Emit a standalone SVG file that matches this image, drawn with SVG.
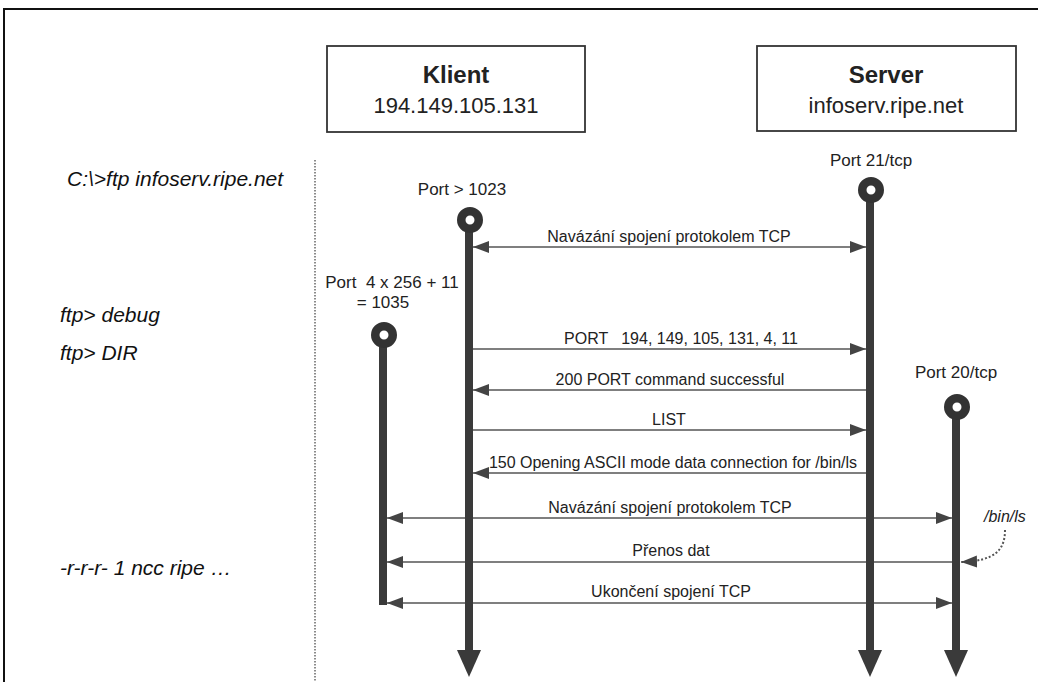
<svg xmlns="http://www.w3.org/2000/svg" width="1038" height="682" viewBox="0 0 1038 682">
<style>
.hdrb{font-family:"Liberation Sans",Arial,sans-serif;font-weight:bold;font-size:24px;fill:#222;text-anchor:middle}
.hdr{font-family:"Liberation Sans",Arial,sans-serif;font-size:22px;fill:#222;text-anchor:middle}
.port{font-family:"Liberation Sans",Arial,sans-serif;font-size:17px;fill:#222;text-anchor:middle;white-space:pre}
.msg{font-family:"Liberation Sans",Arial,sans-serif;font-size:16px;fill:#222;text-anchor:middle;white-space:pre}
.cmd{font-family:"Liberation Sans",Arial,sans-serif;font-style:italic;font-size:21px;fill:#111}
.note{font-family:"Liberation Sans",Arial,sans-serif;font-style:italic;font-size:16px;fill:#222}
.box{fill:#fff;stroke:#333;stroke-width:1.8}
.life{stroke:#3a3a3a;stroke-width:8;fill:none}
.port-c{fill:#fff;stroke:#333;stroke-width:8.5}
.head{fill:#3a3a3a}
.m{stroke:#555;stroke-width:1.6;fill:none}
</style>
<defs>
<marker id="ah" markerUnits="userSpaceOnUse" markerWidth="17" markerHeight="13" refX="16" refY="6" orient="auto-start-reverse">
<path d="M0,0 L16,6 L0,12 z" fill="#444"/>
</marker>
</defs>
<rect x="0" y="0" width="1038" height="682" fill="#fff"/>
<rect x="4" y="9" width="1040" height="680" fill="none" stroke="#111" stroke-width="2"/>
<line x1="315" y1="160" x2="315" y2="682" stroke="#666" stroke-width="1.5" stroke-dasharray="1.5 1.5"/>

<g id="commands">
<text class="cmd" x="67" y="186">C:\&gt;ftp infoserv.ripe.net</text>
<text class="cmd" x="60" y="322">ftp&gt; debug</text>
<text class="cmd" x="60" y="360">ftp&gt; DIR</text>
<text class="cmd" x="60" y="575">-r-r-r- 1 ncc ripe …</text>
</g>

<g id="klient">
<rect class="box" x="327" y="46" width="258" height="86"/>
<text class="hdrb" x="456" y="83">Klient</text>
<text class="hdr" x="456" y="113">194.149.105.131</text>
</g>
<g id="server">
<rect class="box" x="757" y="46" width="259" height="85"/>
<text class="hdrb" x="886" y="83">Server</text>
<text class="hdr" x="886" y="113">infoserv.ripe.net</text>
</g>

<g id="connectors">
<line class="m" x1="473" y1="247" x2="866" y2="247" marker-start="url(#ah)" marker-end="url(#ah)"/>
<text class="msg" x="669" y="242">Navázání spojení protokolem TCP</text>
<line class="m" x1="473" y1="349" x2="866" y2="349" marker-end="url(#ah)"/>
<text class="msg" x="681" y="344">PORT   194, 149, 105, 131, 4, 11</text>
<line class="m" x1="866" y1="390" x2="473" y2="390" marker-end="url(#ah)"/>
<text class="msg" x="670" y="385">200 PORT command successful</text>
<line class="m" x1="473" y1="430" x2="866" y2="430" marker-end="url(#ah)"/>
<text class="msg" x="669" y="425">LIST</text>
<line class="m" x1="866" y1="473" x2="473" y2="473" marker-end="url(#ah)"/>
<text class="msg" x="673" y="468">150 Opening ASCII mode data connection for /bin/ls</text>
<line class="m" x1="387" y1="518" x2="952" y2="518" marker-start="url(#ah)" marker-end="url(#ah)"/>
<text class="msg" x="670" y="513">Navázání spojení protokolem TCP</text>
<line class="m" x1="952" y1="562" x2="387" y2="562" marker-end="url(#ah)"/>
<text class="msg" x="671" y="556">Přenos dat</text>
<line class="m" x1="387" y1="603" x2="952" y2="603" marker-start="url(#ah)" marker-end="url(#ah)"/>
<text class="msg" x="671" y="597">Ukončení spojení TCP</text>
<path d="M1005,530 C1005,550 995,561 961,562" fill="none" stroke="#555" stroke-width="2" stroke-dasharray="2 2" marker-end="url(#ah)"/>
</g>

<g id="klient-ctrl">
<text class="port" x="462" y="195">Port &gt; 1023</text>
<line class="life" x1="469" y1="229" x2="469" y2="652"/>
<polygon class="head" points="457,650 481,650 469,677"/>
<circle class="port-c" cx="470" cy="220" r="8.75"/>
</g>
<g id="server-ctrl">
<text class="port" x="871" y="166">Port 21/tcp</text>
<line class="life" x1="870" y1="199" x2="870" y2="652"/>
<polygon class="head" points="858,650 882,650 870,677"/>
<circle class="port-c" cx="871" cy="190" r="8.75"/>
</g>
<g id="klient-data">
<text class="port" x="392" y="288">Port  4 x 256 + 11</text>
<text class="port" x="383" y="308">= 1035</text>
<line class="life" x1="383" y1="344" x2="383" y2="605"/>
<circle class="port-c" cx="384" cy="335" r="8.75"/>
</g>
<g id="server-data">
<text class="port" x="956" y="378">Port 20/tcp</text>
<line class="life" x1="956" y1="416" x2="956" y2="652"/>
<polygon class="head" points="944,650 968,650 956,677"/>
<circle class="port-c" cx="957" cy="407" r="8.75"/>
<text class="note" x="984" y="522">/bin/ls</text>
</g>
</svg>
